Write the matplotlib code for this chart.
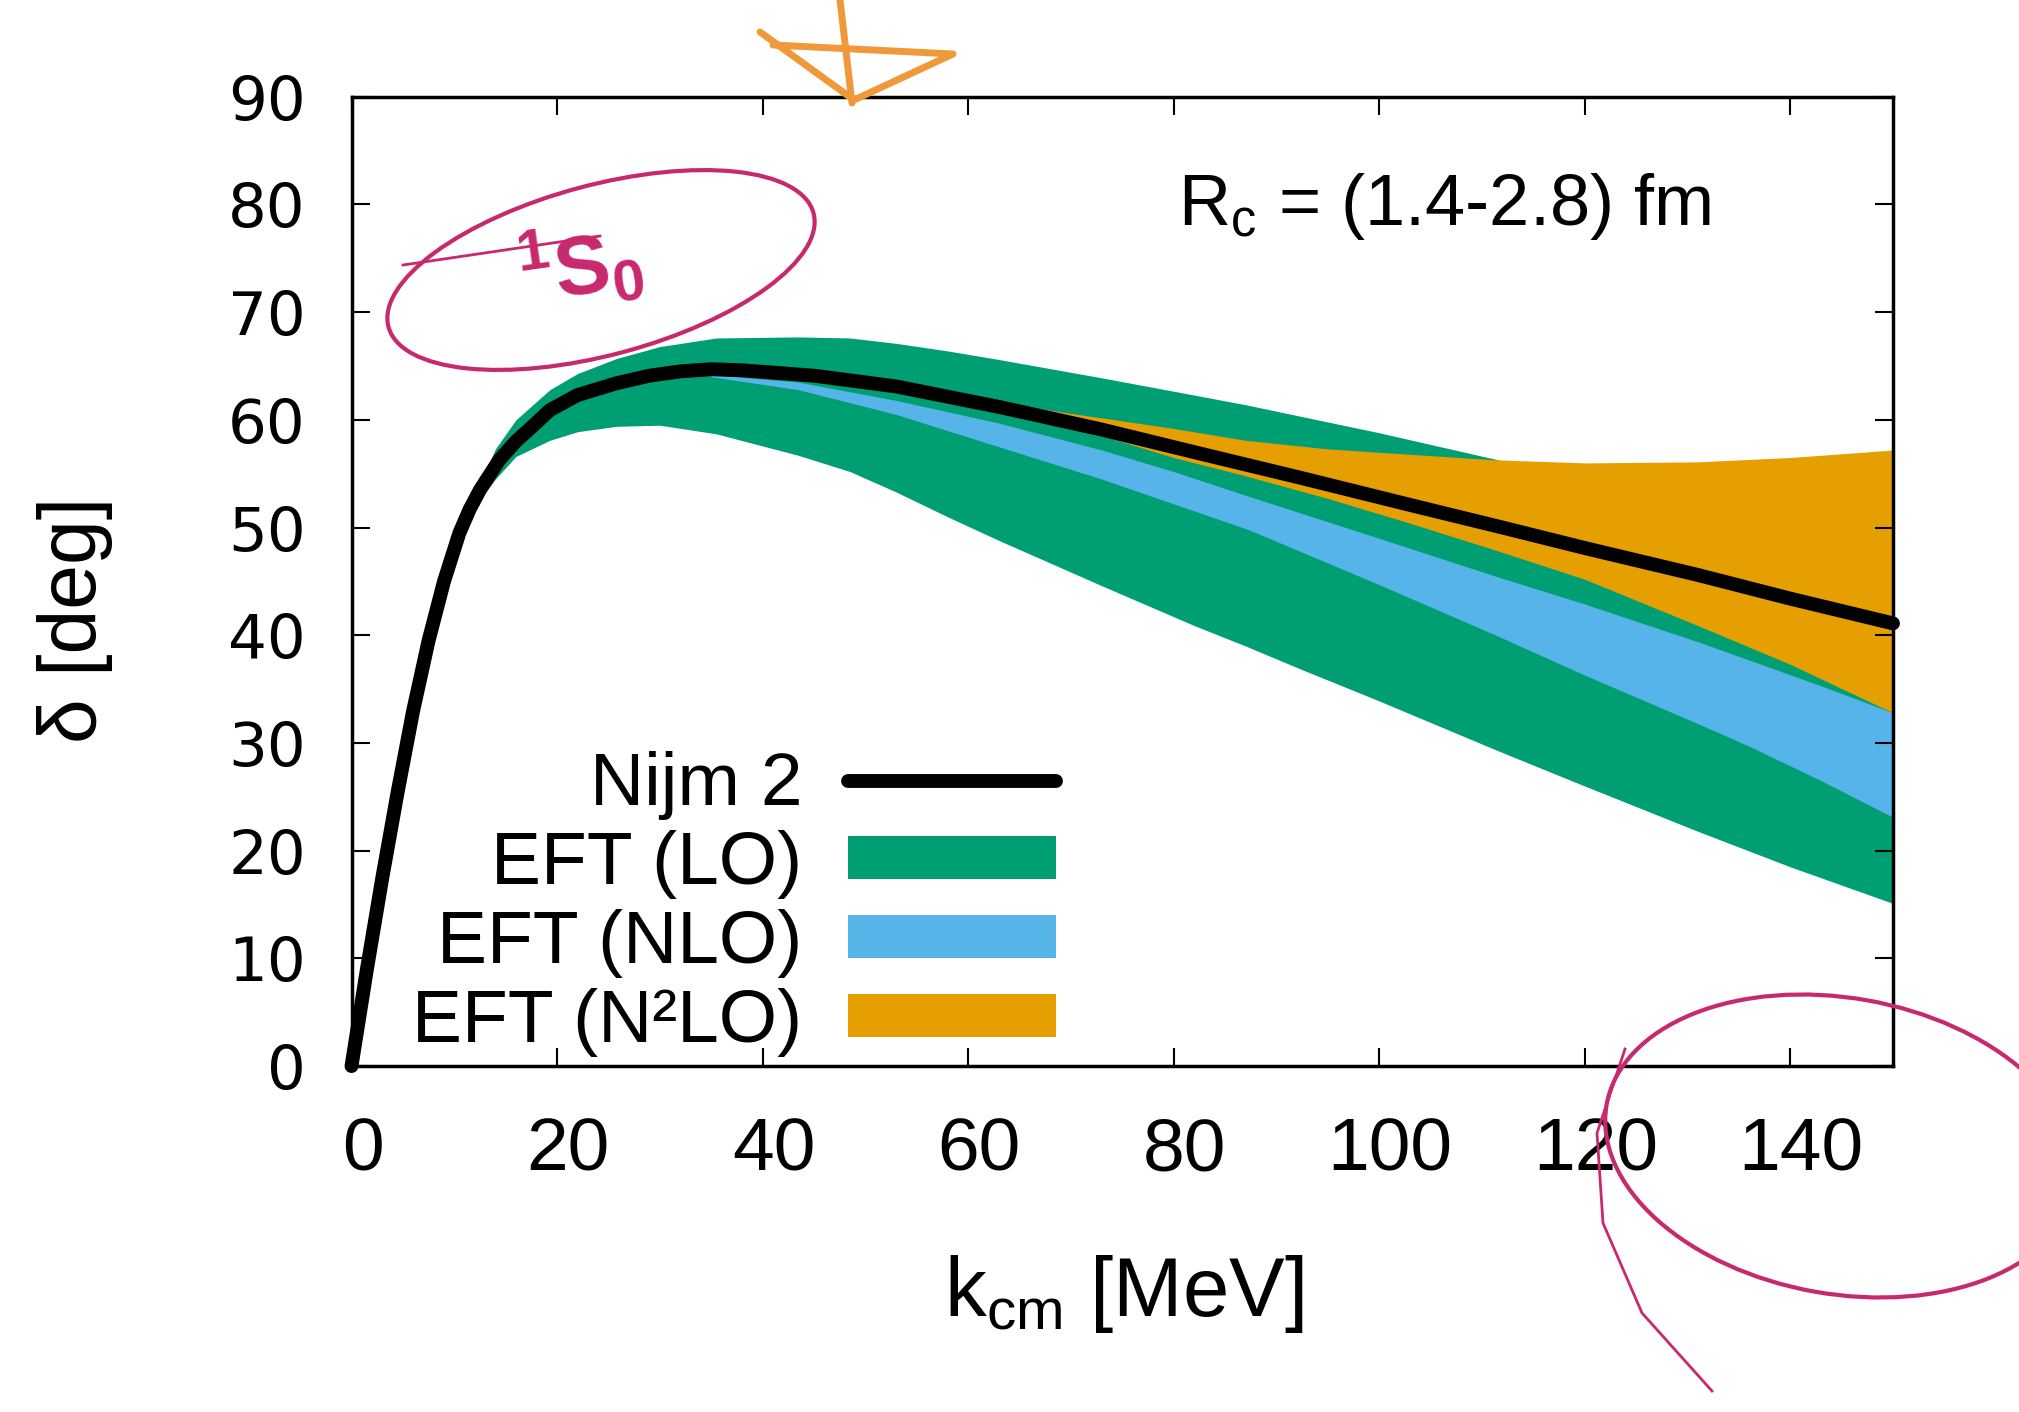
import matplotlib
matplotlib.use('Agg')
import matplotlib.pyplot as plt
from matplotlib.patches import Ellipse
from matplotlib.lines import Line2D
from matplotlib.transforms import ScaledTranslation

plt.rcParams['font.family'] = ['Liberation Sans', 'DejaVu Sans']

# Nijm 2 phase shift (black curve)
k_nijm = [0, 1.5, 3, 4.5, 6, 7.5, 9, 10.5, 11.5, 12.5, 14.4, 16, 17.5, 19.3, 22, 25.8, 29, 32, 35,
          38, 45, 53, 63, 73, 82, 92, 103, 112, 120, 131, 140, 150]
d_nijm = [0, 9, 17.5, 25.5, 33, 39.5, 45, 49.5, 51.7, 53.5, 56.3, 58.0, 59.3, 60.9, 62.3, 63.4, 64.1, 64.5, 64.7,
          64.6, 64.1, 63.1, 61.2, 59.1, 57.0, 54.7, 52.1, 50.0, 48.1, 45.6, 43.4, 41.1]

# EFT (LO) band
k_lo = [12, 14, 16, 19.3, 22, 25.8, 30, 35.5, 43.5, 48.5, 53, 58, 63, 73, 82, 87, 92,
        100, 111.5, 120, 131, 140, 150]
lo_up = [53.0, 57.3, 60.0, 62.8, 64.3, 65.7, 66.8, 67.6, 67.7, 67.6, 67.1, 66.4, 65.6, 63.9, 62.3, 61.4, 60.4,
         58.8, 56.3, 54.0, 51.0, 48.0, 45.0]
lo_low = [52.0, 54.5, 56.6, 58.1, 58.9, 59.4, 59.5, 58.7, 56.7, 55.2, 53.3, 51.0, 48.8, 44.6, 40.9, 39.0, 37.0,
          33.9, 29.3, 26.0, 21.8, 18.5, 15.1]

# EFT (NLO) band
k_nlo = [35, 43.5, 53, 63, 73, 80, 87.3, 100, 111.6, 120, 131, 136, 143, 150]
nlo_up = [64.2, 63.5, 61.8, 59.7, 57.2, 55.2, 52.9, 49.0, 45.4, 42.9, 39.4, 37.7, 35.3, 32.8]
nlo_low = [64.0, 62.8, 60.5, 57.5, 54.5, 52.2, 49.8, 44.7, 39.9, 36.3, 31.8, 29.7, 26.5, 23.1]

# EFT (N2LO) band
k_n2lo = [63, 70, 80, 87, 95, 103, 111, 120, 131, 140, 150]
n2lo_up = [61.6, 60.6, 59.2, 58.1, 57.3, 56.8, 56.3, 56.0, 56.1, 56.5, 57.2]
n2lo_low = [61.0, 59.4, 56.5, 54.8, 52.7, 50.4, 48.0, 45.2, 40.9, 37.3, 32.8]

GREEN = '#009e73'
BLUE = '#56b4e9'
ORANGE = '#e69f00'
PINK = '#c8286e'
SCRIBBLE = '#f0993a'

fig = plt.figure(figsize=(20.19, 14.12), dpi=100)
ax = fig.add_axes([0.1741, 0.2450, 0.7635, 0.6865])

lo = ax.fill_between(k_lo, lo_low, lo_up, color=GREEN, lw=0, label='EFT (LO)')
nlo = ax.fill_between(k_nlo, nlo_low, nlo_up, color=BLUE, lw=0, label='EFT (NLO)')
n2lo = ax.fill_between(k_n2lo, n2lo_low, n2lo_up, color=ORANGE, lw=0, label='EFT (N²LO)')
nijm, = ax.plot(k_nijm, d_nijm, color='black', lw=10, solid_capstyle='round',
                solid_joinstyle='round', clip_on=False, zorder=5, label='Nijm 2')

ax.set_xlim(0, 150)
ax.set_ylim(0, 90)
ax.set_xticks(range(0, 141, 20))
ax.set_yticks(range(0, 91, 10))
ax.tick_params(direction='in', top=True, right=True, length=13, width=1.5)
ax.tick_params(axis='x', labelsize=54, pad=36)
ax.tick_params(axis='y', labelsize=44, pad=33)
for t in ax.get_yticklabels():
    t.set_fontfamily('DejaVu Sans')
# gnuplot puts the x labels a little to the right of the ticks
shift = ScaledTranslation(0.11, 0, fig.dpi_scale_trans)
for t in ax.get_xticklabels():
    t.set_transform(t.get_transform() + shift)
for s in ax.spines.values():
    s.set_linewidth(2.5)

ax.set_xlabel('$\\mathregular{k_{cm}}$ [MeV]', fontsize=60)
ax.xaxis.set_label_coords(0.501, -0.193)
ax.set_ylabel('δ [deg]', fontsize=58)
ax.yaxis.set_label_coords(-0.155, 0.46)

ax.text(0.536, 0.8675, '$\\mathregular{R_c}$ = (1.4-2.8) fm', transform=ax.transAxes,
        fontsize=52, va='baseline', ha='left')

ax.legend(handles=[nijm, lo, nlo, n2lo], loc='lower right', bbox_to_anchor=(0.457, 0.009),
          frameon=False, markerfirst=False, fontsize=54, handlelength=2.77,
          handleheight=0.5, handletextpad=0.61, labelspacing=0.135,
          borderpad=0, borderaxespad=0)

# hand-drawn annotations on top of the figure
inch = fig.dpi_scale_trans
fig.add_artist(Ellipse((6.01, 11.42), 4.4, 1.7, angle=15, fill=False, ec=PINK, lw=3, transform=inch))
fig.add_artist(Line2D([4.03, 6.0], [11.47, 11.76], color=PINK, lw=2, transform=inch))
fig.text(5.8, 11.45, '$\\mathregular{^1S_0}$', color=PINK, fontsize=60, fontweight='bold',
         rotation=8, ha='center', va='center', transform=inch)
fig.add_artist(Ellipse((18.41, 2.66), 4.76, 2.96, angle=-10, fill=False, ec=PINK, lw=3, transform=inch))
fig.add_artist(Line2D([16.25, 15.97, 16.03, 16.42, 17.12], [3.63, 2.79, 1.89, 0.99, 0.21],
                      color=PINK, lw=2, transform=inch))
fig.add_artist(Line2D([7.60, 8.54, 9.53, 7.73], [13.80, 13.12, 13.58, 13.67],
                      color=SCRIBBLE, lw=5, solid_joinstyle='round', solid_capstyle='round', transform=inch))
fig.add_artist(Line2D([8.40, 8.52], [14.12, 13.09], color=SCRIBBLE, lw=5,
                      solid_capstyle='round', transform=inch))

fig.savefig('out.png', dpi=100)
